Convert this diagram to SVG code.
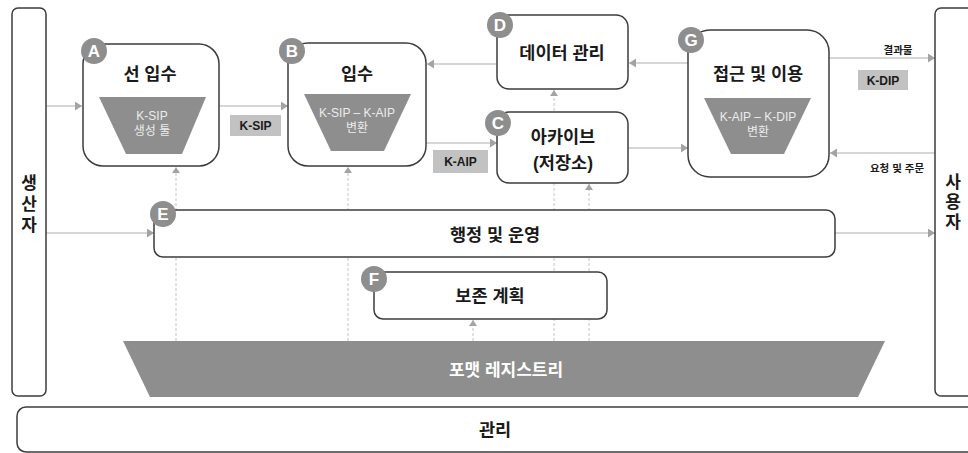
<svg xmlns="http://www.w3.org/2000/svg" width="968" height="453" viewBox="0 0 968 453">
<style>
text{font-family:"Liberation Sans","Noto Sans CJK KR",sans-serif;text-anchor:middle}
.box{fill:#fff;stroke:#3c3c3c;stroke-width:1.5}
.t{font-size:17.5px;font-weight:bold;fill:#1a1a1a}
.tv{font-size:17px;font-weight:bold;fill:#1a1a1a}
.trap{fill:#8e8e8e}
.sub{font-size:12px;fill:#ececec}
.badge{fill:#8e8e8e}
.bl{font-size:17px;font-weight:bold;fill:#fff}
.rl{font-size:17px;font-weight:bold;fill:#fff}
.lab{fill:#c2c2c2}
.lt{font-size:12px;font-weight:bold;fill:#1a1a1a}
.sm{font-size:10.5px;font-weight:bold;fill:#1a1a1a}
.ln{fill:none;stroke:#c8c8c8;stroke-width:1.5}
.dl{fill:none;stroke:#c4c4c4;stroke-width:1;stroke-dasharray:3 2}
</style>
<defs>
<marker id="ah" markerUnits="userSpaceOnUse" markerWidth="8" markerHeight="10" refX="7" refY="4.5" orient="auto">
<path d="M0,0 L7,4.5 L0,9 z" fill="#a3a3a3"/>
</marker>
<marker id="ahd" markerUnits="userSpaceOnUse" markerWidth="7" markerHeight="9" refX="6" refY="4" orient="auto">
<path d="M0,0 L6,4 L0,8 z" fill="#a3a3a3"/>
</marker>
</defs>
<g id="connectors">
<line class="ln" x1="46" y1="106" x2="82" y2="106" marker-end="url(#ah)"/>
<line class="ln" x1="219" y1="106" x2="288" y2="106" marker-end="url(#ah)"/>
<line class="ln" x1="497" y1="64" x2="427" y2="64" marker-end="url(#ah)"/>
<line class="ln" x1="688" y1="63" x2="629" y2="63" marker-end="url(#ah)"/>
<line class="ln" x1="426" y1="143" x2="497" y2="143" marker-end="url(#ah)"/>
<line class="ln" x1="628" y1="148" x2="688" y2="148" marker-end="url(#ah)"/>
<line class="ln" x1="829" y1="58" x2="935" y2="58" marker-end="url(#ah)"/>
<line class="ln" x1="935" y1="153" x2="830" y2="153" marker-end="url(#ah)"/>
<line class="ln" x1="46" y1="233" x2="154" y2="233" marker-end="url(#ah)"/>
<line class="ln" x1="835" y1="233" x2="935" y2="233" marker-end="url(#ah)"/>
<line class="dl" x1="176" y1="341" x2="176" y2="167" marker-end="url(#ahd)"/>
<line class="dl" x1="348" y1="341" x2="348" y2="167" marker-end="url(#ahd)"/>
<line class="dl" x1="554" y1="341" x2="554" y2="90" marker-end="url(#ahd)"/>
<line class="dl" x1="589" y1="341" x2="589" y2="184" marker-end="url(#ahd)"/>
<line class="dl" x1="473" y1="341" x2="473" y2="320" marker-end="url(#ahd)"/>
</g>
<g id="producer">
<rect class="box" x="12" y="8" width="34" height="388" rx="6"/>
<text class="tv" x="29" y="189">생</text>
<text class="tv" x="29" y="210">산</text>
<text class="tv" x="29" y="231">자</text>
</g>
<g id="user">
<rect class="box" x="935" y="8" width="45" height="388" rx="6"/>
<text class="tv" x="953" y="188">사</text>
<text class="tv" x="953" y="208">용</text>
<text class="tv" x="953" y="228">자</text>
</g>
<g id="nodeA">
<rect class="box" x="83" y="44" width="136" height="122" rx="20"/>
<text class="t" x="150" y="80">선 입수</text>
<polygon class="trap" points="99,97 206,97 182,154 126,154"/>
<text class="sub" x="152" y="120">K-SIP</text>
<text class="sub" x="152" y="135">생성 툴</text>
<circle class="badge" cx="94" cy="51" r="13"/>
<text class="bl" x="94" y="57">A</text>
</g>
<g id="labelKSIP">
<rect class="lab" x="230" y="115" width="51" height="21"/>
<text class="lt" x="255.5" y="130">K-SIP</text>
</g>
<g id="nodeB">
<rect class="box" x="288" y="43" width="138" height="123" rx="20"/>
<text class="t" x="357" y="80">입수</text>
<polygon class="trap" points="304,94 411,94 384,151 331,151"/>
<text class="sub" x="357" y="117">K-SIP – K-AIP</text>
<text class="sub" x="357" y="132">변환</text>
<circle class="badge" cx="292" cy="51" r="13"/>
<text class="bl" x="292" y="57">B</text>
</g>
<g id="labelKAIP">
<rect class="lab" x="433" y="150" width="55" height="23"/>
<text class="lt" x="460.5" y="166">K-AIP</text>
</g>
<g id="nodeD">
<rect class="box" x="497" y="15" width="131" height="74" rx="12"/>
<text class="t" x="562" y="59">데이터 관리</text>
<circle class="badge" cx="500" cy="25" r="13"/>
<text class="bl" x="500" y="31">D</text>
</g>
<g id="nodeC">
<rect class="box" x="497" y="112" width="131" height="71" rx="12"/>
<text class="t" x="563" y="143">아카이브</text>
<text class="t" x="563" y="169">(저장소)</text>
<circle class="badge" cx="498" cy="123" r="13"/>
<text class="bl" x="498" y="129">C</text>
</g>
<g id="nodeG">
<rect class="box" x="688" y="30" width="141" height="147" rx="22"/>
<text class="t" x="758" y="80">접근 및 이용</text>
<polygon class="trap" points="704,98 811,98 784,154 731,154"/>
<text class="sub" x="758" y="121">K-AIP – K-DIP</text>
<text class="sub" x="758" y="136">변환</text>
<circle class="badge" cx="691" cy="40" r="13"/>
<text class="bl" x="691" y="46">G</text>
</g>
<g id="outputLabels">
<text class="sm" x="898" y="54">결과물</text>
<rect class="lab" x="858" y="70" width="50" height="20"/>
<text class="lt" x="883" y="85">K-DIP</text>
<text class="sm" x="897" y="172">요청 및 주문</text>
</g>
<g id="nodeE">
<rect class="box" x="154" y="210" width="681" height="47" rx="9"/>
<text class="t" x="495" y="241">행정 및 운영</text>
<circle class="badge" cx="163" cy="214" r="13"/>
<text class="bl" x="163" y="220">E</text>
</g>
<g id="nodeF">
<rect class="box" x="374" y="272" width="233" height="47" rx="9"/>
<text class="t" x="490" y="302">보존 계획</text>
<circle class="badge" cx="374" cy="279" r="13"/>
<text class="bl" x="374" y="285">F</text>
</g>
<g id="registry">
<polygon class="trap" points="123,341 885,341 858,397 150,397"/>
<text class="rl" x="506" y="376">포맷 레지스트리</text>
</g>
<g id="management">
<rect class="box" x="17" y="407" width="965" height="45" rx="9"/>
<text class="t" x="495" y="436">관리</text>
</g>
</svg>
